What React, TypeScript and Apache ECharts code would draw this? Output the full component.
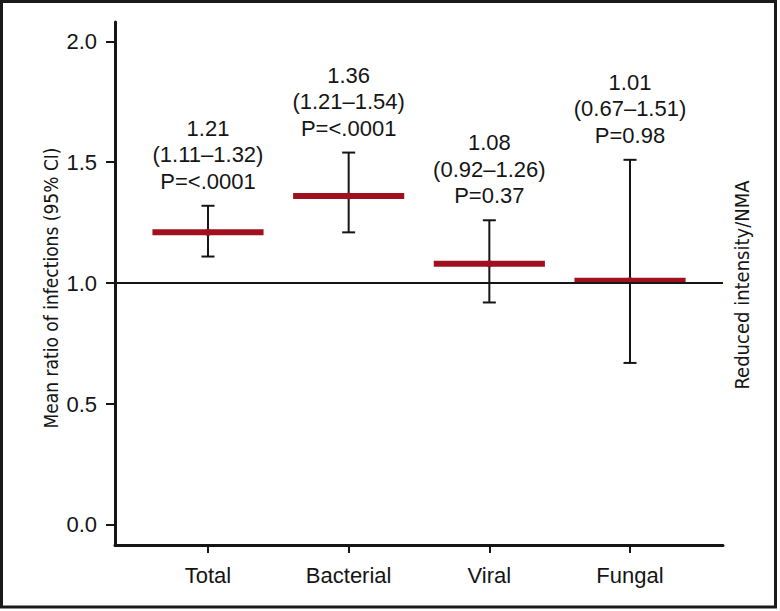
import React, { useEffect, useRef } from "react";
import * as echarts from "echarts";

const categories = ["Total", "Bacterial", "Viral", "Fungal"];
const means = [1.21, 1.36, 1.08, 1.01];
const lowerCI = [1.11, 1.21, 0.92, 0.67];
const upperCI = [1.32, 1.54, 1.26, 1.51];
const pValues = ["<.0001", "<.0001", "0.37", "0.98"];
const yTicks = [0, 0.5, 1, 1.5, 2];
const xTicks = [0, 1, 2, 3];
const referenceValue = 1.0;

const RED = "#a0101f";
const INK = "#151515";
const FONT = "'Liberation Sans', Arial, Helvetica, sans-serif";
const COND = "'DejaVu Sans Condensed', 'Liberation Sans Narrow', sans-serif";

export default function App() {
  const ref = useRef<HTMLDivElement>(null);
  useEffect(() => {
    if (!ref.current) return;
    const chart = echarts.init(ref.current, null, { renderer: "svg" });
    const data = categories.map((_, i) => [i, means[i], lowerCI[i], upperCI[i]]);
    chart.setOption({
      animation: false,
      backgroundColor: "#ffffff",
      grid: { left: 115, right: 57, top: 22, bottom: 66 },
      xAxis: {
        type: "value",
        min: -0.661,
        max: 3.661,
        splitLine: { show: false },
        axisLine: { show: true, onZero: false, lineStyle: { color: INK, width: 3 } },
        axisTick: { show: true, customValues: xTicks, length: 8, lineStyle: { color: INK, width: 2 } },
        axisLabel: {
          customValues: xTicks,
          formatter: (v: number) => categories[Math.round(v)] ?? "",
          color: INK,
          fontSize: 22,
          fontFamily: FONT,
          margin: 19,
        },
      },
      yAxis: {
        type: "value",
        min: -0.083,
        max: 2.08,
        splitLine: { show: false },
        axisLine: { show: true, onZero: false, lineStyle: { color: INK, width: 3 } },
        axisTick: { show: true, customValues: yTicks, length: 9, lineStyle: { color: INK, width: 2 } },
        axisLabel: {
          customValues: yTicks,
          formatter: (v: number) => v.toFixed(1),
          color: INK,
          fontSize: 22,
          fontFamily: FONT,
          margin: 18,
        },
      },
      graphic: [
        {
          type: "rect",
          shape: { x: 1.5, y: 1.5, width: 774, height: 605.5 },
          style: { fill: "none", stroke: "#1a1a1a", lineWidth: 3 },
          silent: true,
        },
        {
          type: "text",
          x: 51,
          y: 288,
          rotation: Math.PI / 2,
          style: {
            text: "Mean ratio of infections (95% CI)",
            fontSize: 19,
            fontFamily: COND,
            fill: INK,
            align: "center",
            verticalAlign: "middle",
          },
        },
        {
          type: "text",
          x: 742,
          y: 285,
          rotation: Math.PI / 2,
          style: {
            text: "Reduced intensity/NMA",
            fontSize: 20,
            fontFamily: COND,
            fill: INK,
            align: "center",
            verticalAlign: "middle",
          },
        },
      ],
      series: [
        {
          type: "line",
          data: [],
          z: 1,
          silent: true,
          markLine: {
            silent: true,
            symbol: ["none", "none"],
            label: { show: false },
            lineStyle: { color: INK, width: 2, type: "solid" },
            data: [{ yAxis: referenceValue }],
          },
        },
        {
          type: "custom",
          z: 3,
          data,
          renderItem: (params: any, api: any) => {
            const i = api.value(0);
            const m = api.value(1);
            const lo = api.value(2);
            const hi = api.value(3);
            const c = api.coord([i, m]);
            const l = api.coord([i, lo]);
            const h = api.coord([i, hi]);
            const x = c[0];
            const unit = api.size([1, 0])[0];
            const half = unit * 0.395;
            const cap = 6.5;
            const idx = params.dataIndex;
            const label = `${means[idx].toFixed(2)}\n(${lowerCI[idx].toFixed(2)}–${upperCI[idx].toFixed(2)})\nP=${pValues[idx]}`;
            return {
              type: "group",
              children: [
                { type: "line", shape: { x1: x, y1: l[1], x2: x, y2: h[1] }, style: { stroke: INK, lineWidth: 2 } },
                { type: "line", shape: { x1: x - cap, y1: l[1], x2: x + cap, y2: l[1] }, style: { stroke: INK, lineWidth: 2 } },
                { type: "line", shape: { x1: x - cap, y1: h[1], x2: x + cap, y2: h[1] }, style: { stroke: INK, lineWidth: 2 } },
                { type: "rect", shape: { x: x - half, y: c[1] - 3, width: half * 2, height: 6 }, style: { fill: RED } },
                { type: "circle", shape: { cx: x, cy: c[1], r: 3.5 }, style: { fill: RED } },
                {
                  type: "text",
                  x: x,
                  y: h[1] - 11.25,
                  style: {
                    text: label,
                    fontSize: 22,
                    fontFamily: FONT,
                    lineHeight: 26.5,
                    fill: INK,
                    align: "center",
                    verticalAlign: "bottom",
                  },
                },
              ],
            };
          },
        },
      ],
    });
    return () => chart.dispose();
  }, []);
  return (
    <div
      ref={ref}
      style={{ position: "absolute", left: 0, top: 0, width: 780, height: 611 }}
    />
  );
}
